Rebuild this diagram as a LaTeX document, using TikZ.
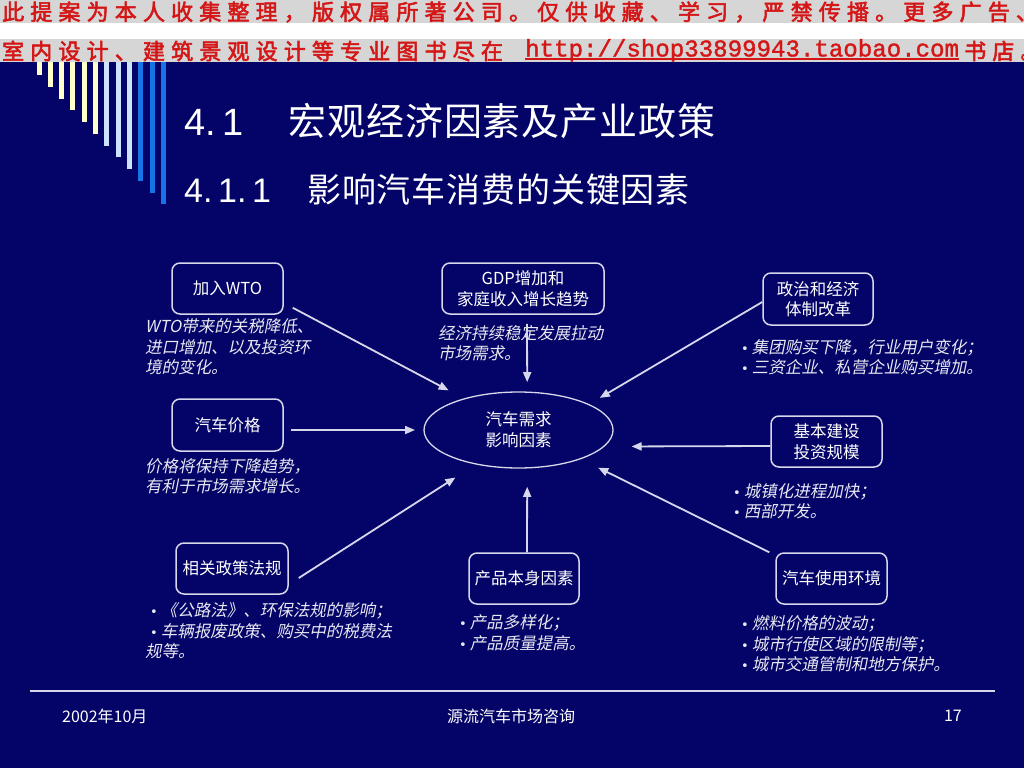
\documentclass[tikz,border=0pt]{standalone}
\usepackage{fontspec}
\usetikzlibrary{shapes.geometric,arrows.meta}
\setmainfont{Noto Sans CJK SC}
\newfontfamily\cjkfont{Noto Sans CJK SC}
\newfontfamily\cjkslant[FakeSlant=0.2]{Noto Sans CJK SC}
\newfontfamily\titlefont[LetterSpace=2.5]{Noto Sans CJK SC}
\newfontfamily\bannerfont[FakeBold=2.5,LetterSpace=28]{Noto Sans CJK SC}
\newfontfamily\numfont{Liberation Sans}
\newfontfamily\urlfont[FakeBold=1.5]{Liberation Mono}
\newfontfamily\bulfont{DejaVu Sans}

\definecolor{navy}{RGB}{4,4,104}
\definecolor{linegray}{RGB}{215,215,235}
\definecolor{notewhite}{RGB}{232,232,242}
\definecolor{bannergray}{RGB}{214,214,214}
\definecolor{bannerred}{RGB}{212,22,22}
\definecolor{cream}{RGB}{255,255,204}
\definecolor{paleblue}{RGB}{204,226,255}
\definecolor{stripeblue}{RGB}{22,116,232}

\newcommand{\bul}{{\bulfont\fontsize{13}{13}\selectfont •}\hspace{3pt}}

\tikzstyle{box} = [draw=linegray, line width=1.5pt, rounded corners=8pt, fill=navy, text=white, minimum width=111pt, minimum height=51pt, align=center, inner sep=2pt, font=\cjkfont\fontsize{16.5}{20.5}\selectfont]
\tikzstyle{hub} = [ellipse, draw=linegray, line width=1.3pt, minimum width=189pt, minimum height=76pt, inner sep=0pt, outer sep=0pt, align=center, text=white, font=\cjkfont\fontsize{16.5}{21}\selectfont]
\tikzstyle{note} = [anchor=west, align=left, inner sep=0pt, text=notewhite, font=\cjkslant\fontsize{16.5}{20.5}\selectfont]
\tikzstyle{arr} = [-{Triangle[length=10pt,width=8pt]}, line width=1.8pt, draw=linegray]
\tikzstyle{title} = [anchor=base west, inner sep=0pt, text=white, font=\titlefont\fontsize{38}{46}\selectfont]
\tikzstyle{banner} = [anchor=west, inner sep=0pt, text=bannerred, font=\bannerfont\fontsize{22}{26}\selectfont]
\tikzstyle{foot} = [inner sep=0pt, text=white, font=\cjkfont\fontsize{16}{20}\selectfont]

\begin{document}
\begin{tikzpicture}[x=1pt, y=-1pt]
    \useasboundingbox (0,0) rectangle (1024,768);
    \fill [navy] (0,0) rectangle (1024,768);
    \fill [bannergray] (0,0) rectangle (1024,23);
    \fill [white] (0,23) rectangle (1024,39);
    \fill [bannergray] (0,39) rectangle (1024,62);
    \foreach \i/\c in {0/cream,1/cream,2/cream,3/cream,4/cream,5/cream,6/paleblue,7/paleblue,8/paleblue,9/stripeblue,10/stripeblue,11/stripeblue}
        \fill [\c] ({36.5+11.3*\i},62) rectangle ({41.5+11.3*\i},{75+11.75*\i});

    \node [banner] (notice) at (2,12) {此提案为本人收集整理，版权属所著公司。仅供收藏、学习，严禁传播。更多广告、};
    \node [banner] (shop) at (2,51) {室内设计、建筑景观设计等专业图书尽在};
    \node [anchor=base west, inner sep=0pt, text=bannerred, font=\urlfont\fontsize{24.1}{28}\selectfont] (link) at (525,56.5) {http://shop33899943.taobao.com};
    \node [banner] (store) at (964,51) {书店。};
    \draw [bannerred, line width=1pt] ([yshift=-2.5pt]link.base west) -- ([yshift=-2.5pt]link.base east);

    \node [title] (heading) at (184,135) {\makebox[104pt][l]{\numfont 4.\,1}宏观经济因素及产业政策};
    \node [title, font=\titlefont\fontsize{34}{40}\selectfont] (subheading) at (184,202) {\makebox[123pt][l]{\numfont 4.\,1.\,1}影响汽车消费的关键因素};

    \node [hub] (demand) at (518.5,430) {汽车需求\\影响因素};
    \node [box] (wto) at (227.5,288.5) {加入WTO};
    \node [box, minimum width=162pt] (gdp) at (523,288.5) {GDP增加和\\家庭收入增长趋势};
    \node [box, minimum width=110pt, minimum height=52pt] (reform) at (818,299) {政治和经济\\体制改革};
    \node [box, minimum height=52pt] (price) at (227.5,425) {汽车价格};
    \node [box] (infra) at (826.5,441.5) {基本建设\\投资规模};
    \node [box, minimum width=112pt] (policy) at (232,568.5) {相关政策法规};
    \node [box, minimum width=110pt] (product) at (524,578.5) {产品本身因素};
    \node [box] (env) at (831.5,578.5) {汽车使用环境};

    \node [note] (wtonote) at (145,347) {WTO带来的关税降低、\\进口增加、以及投资环\\境的变化。};
    \node [note] (gdpnote) at (438,343) {经济持续稳定发展拉动\\市场需求。};
    \node [note] (pricenote) at (145,476) {价格将保持下降趋势，\\有利于市场需求增长。};
    \node [note] (reformnote) at (741,357) {\bul 集团购买下降，行业用户变化；\\\bul 三资企业、私营企业购买增加。};
    \node [note] (infranote) at (733,501) {\bul 城镇化进程加快；\\\bul 西部开发。};
    \node [note] (policynote) at (145,631) {\hspace*{5pt}\bul 《公路法》、环保法规的影响；\\\hspace*{5pt}\bul 车辆报废政策、购买中的税费法\\规等。};
    \node [note] (productnote) at (459,633) {\bul 产品多样化；\\\bul 产品质量提高。};
    \node [note] (envnote) at (741,644) {\bul 燃料价格的波动；\\\bul 城市行使区域的限制等；\\\bul 城市交通管制和地方保护。};

    \draw [arr, shorten >=18pt] ([shift={(9pt,7pt)}]wto.south east) -- (demand.150);
    \draw [arr, shorten >=10pt] ([shift={(4pt,-9pt)}]gdp.south) -- (demand.77);
    \draw [arr, shorten >=13pt] ([yshift=-3pt]reform.west) -- (demand.20);
    \draw [arr, shorten >=9pt] ([shift={(7pt,-5pt)}]price.east) -- (demand.180);
    \draw [arr, shorten >=28pt] ([yshift=-4.5pt]infra.west) -- (demand.349);
    \draw [arr, shorten >=25pt] ([shift={(10pt,-9.5pt)}]policy.east) -- (demand.219);
    \draw [arr, shorten >=19pt] ([xshift=3pt]product.north) -- (demand.283);
    \draw [arr, shorten >=20pt] ([xshift=-6pt]env.north west) -- (demand.335);

    \draw [line width=2pt, linegray] (30,691) -- (995,691);
    \node [foot, anchor=west] (date) at (62,716) {2002年10月};
    \node [foot] (company) at (511,716) {源流汽车市场咨询};
    \node [foot, anchor=east] (page) at (962,716) {17};
\end{tikzpicture}
\end{document}
